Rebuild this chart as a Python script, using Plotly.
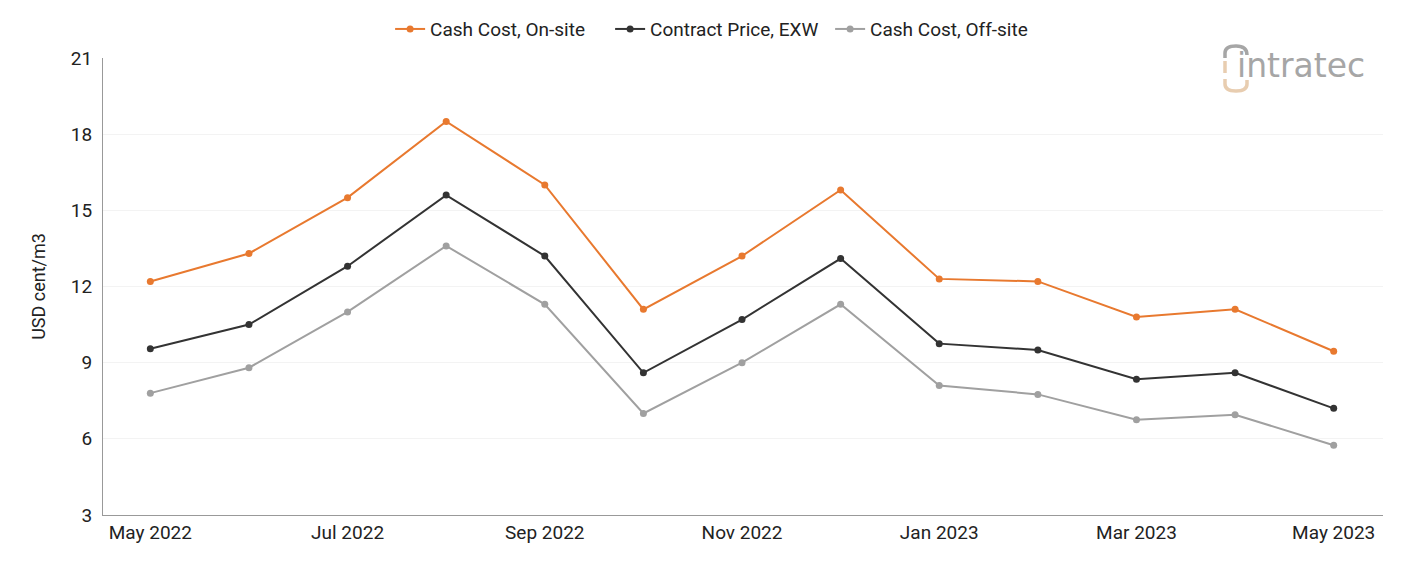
import plotly.graph_objects as go

months = ["May 2022", "Jun 2022", "Jul 2022", "Aug 2022", "Sep 2022", "Oct 2022", "Nov 2022",
          "Dec 2022", "Jan 2023", "Feb 2023", "Mar 2023", "Apr 2023", "May 2023"]
cash_cost_onsite = [12.2, 13.3, 15.5, 18.5, 16.0, 11.1, 13.2, 15.8, 12.3, 12.2, 10.8, 11.1, 9.45]
contract_price_exw = [9.55, 10.5, 12.8, 15.6, 13.2, 8.6, 10.7, 13.1, 9.75, 9.5, 8.35, 8.6, 7.2]
cash_cost_offsite = [7.8, 8.8, 11.0, 13.6, 11.3, 7.0, 9.0, 11.3, 8.1, 7.75, 6.75, 6.95, 5.75]
tick_labels = ["May 2022", "Jul 2022", "Sep 2022", "Nov 2022", "Jan 2023", "Mar 2023", "May 2023"]

series = [
    ("Cash Cost, On-site", cash_cost_onsite, "#E8792F"),
    ("Contract Price, EXW", contract_price_exw, "#333333"),
    ("Cash Cost, Off-site", cash_cost_offsite, "#A0A0A0"),
]

fig = go.Figure()
for name, vals, color in series:
    fig.add_trace(go.Scatter(
        x=months, y=vals, name=name, mode="lines+markers",
        line=dict(color=color, width=2), marker=dict(color=color, size=7),
    ))

M_L, M_R, M_T, M_B, W, H = 103, 18, 58, 46, 1401, 561

fig.update_layout(
    width=W, height=H,
    margin=dict(l=M_L, r=M_R, t=M_T, b=M_B, autoexpand=False),
    paper_bgcolor="white", plot_bgcolor="white",
    font=dict(family="Roboto", size=19, color="#222222"),
    legend=dict(orientation="h", xref="container", x=0.514, xanchor="center",
                y=0.982, yanchor="top", yref="container", font=dict(size=19),
                entrywidth=175, entrywidthmode="pixels"),
    xaxis=dict(
        type="category", tickmode="array", tickvals=tick_labels, ticktext=tick_labels,
        range=[-0.48, 12.5], showline=True, linecolor="#999999", linewidth=1,
        showgrid=False, ticks="", tickfont=dict(size=19),
    ),
    yaxis=dict(
        range=[3, 21], tickvals=[3, 6, 9, 12, 15, 18, 21], showline=True,
        linecolor="#999999", linewidth=1, gridcolor="#F3F3F3", zeroline=False,
        ticks="", tickfont=dict(size=19), ticklabelstandoff=6,
        title=dict(text="USD cent/m3", font=dict(size=18), standoff=20),
    ),
)

# --- logo (decoration), pixel -> paper helpers
pw, ph = W - M_L - M_R, H - M_T - M_B
def px(x):
    return (x - M_L) / pw
def py(y):
    return (H - M_B - y) / ph
def path(cmds):
    out = []
    for c in cmds:
        if isinstance(c, str):
            out.append(c)
        else:
            out.append(f"{px(c[0]):.5f},{py(c[1]):.5f}")
    return " ".join(out)

fig.add_annotation(
    xref="paper", yref="paper", x=px(1367), y=py(66), xanchor="right", yanchor="middle",
    text="intratec", showarrow=False,
    font=dict(family="DejaVu Sans", size=33, color="#A6A6A6"),
)
fig.add_shape(type="path", xref="paper", yref="paper", layer="above",
              path=path(["M", (1225, 58), "L", (1225, 53), "Q", (1225, 46), (1236, 46),
                         "Q", (1247, 46), (1247, 55)]),
              line=dict(color="#A6A6A6", width=3.5))
fig.add_shape(type="path", xref="paper", yref="paper", layer="above",
              path=path(["M", (1225, 61), "L", (1225, 73)]),
              line=dict(color="#E8CDB0", width=3.5))
fig.add_shape(type="path", xref="paper", yref="paper", layer="above",
              path=path(["M", (1225, 79), "L", (1225, 84), "Q", (1225, 91), (1236, 91),
                         "Q", (1247, 91), (1247, 84), "L", (1247, 80)]),
              line=dict(color="#E8CDB0", width=3.5))

fig.write_html("out.html")
